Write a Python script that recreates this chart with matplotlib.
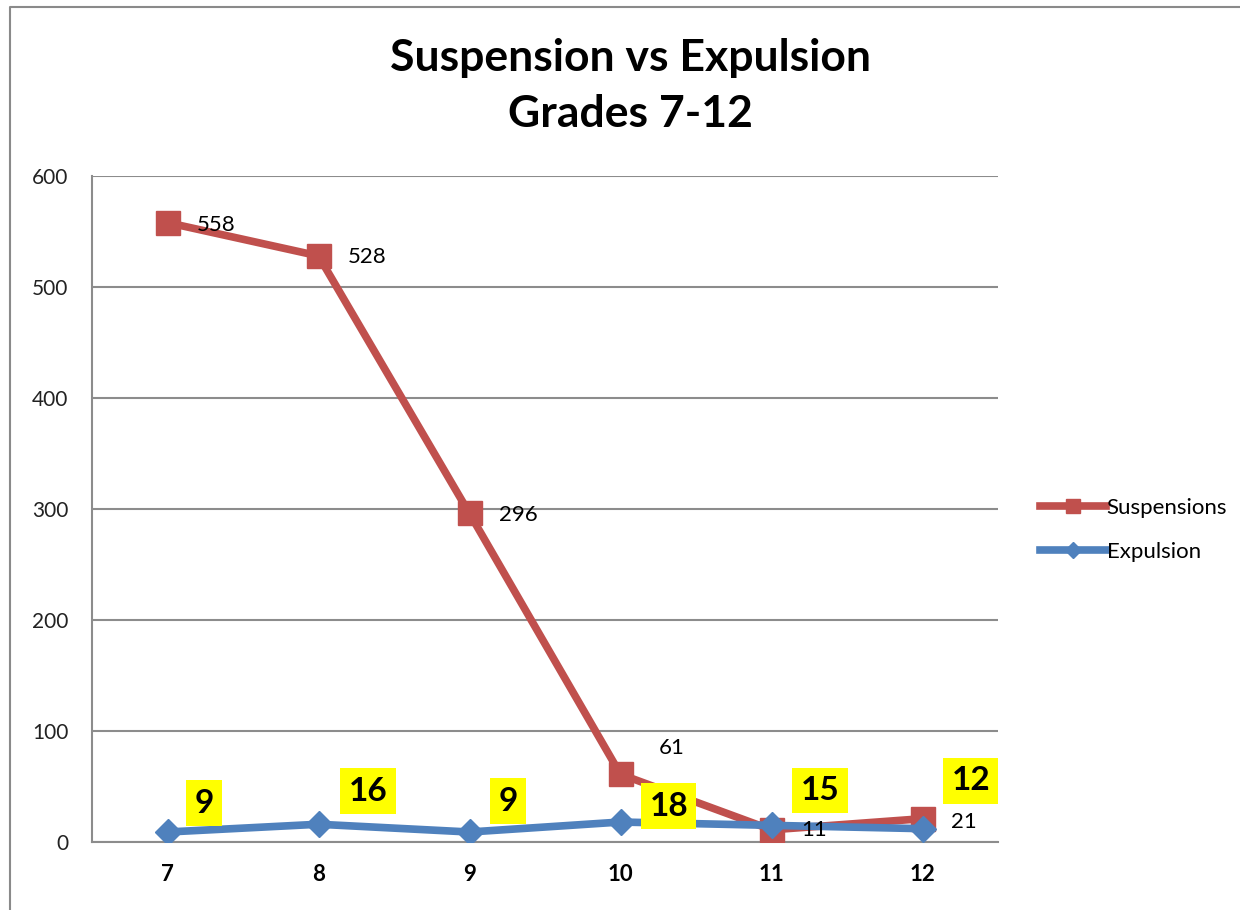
import numpy as np
import matplotlib
matplotlib.use('Agg')
import matplotlib.pyplot as plt
from matplotlib.lines import Line2D

# 数据
grades = ['7', '8', '9', '10', '11', '12']
suspensions = [558, 528, 296, 61, 11, 21]
expulsion = [9, 16, 9, 18, 15, 12]

# 标签偏移（像素）
susp_offsets = [(29, -2), (29, -1), (29, -2), (38, 26), (30, 0), (28, -3)]
exp_offsets = [(27, 29), (30, 33), (29, 31), (29, 16), (29, 35), (29, 48)]

RED = '#C0504D'
BLUE = '#4F81BD'
GRID = '#8c8c8c'

plt.rcParams['font.family'] = ['Lato', 'DejaVu Sans']

fig = plt.figure(figsize=(12.4, 9.1), dpi=100)
ax = fig.add_axes([92 / 1240, 68 / 910, 906 / 1240, 666 / 910])

x = np.arange(len(grades))
ax.plot(x, suspensions, color=RED, lw=5.5, marker='s', markersize=17,
        markerfacecolor=RED, markeredgecolor=RED, label='Suspensions', zorder=3)
ax.plot(x, expulsion, color=BLUE, lw=5.5, marker='D', markersize=13,
        markerfacecolor=BLUE, markeredgecolor=BLUE, label='Expulsion', zorder=4)

px = 0.72  # 像素 -> 磅
for xi, v, (dx, dy) in zip(x, suspensions, susp_offsets):
    ax.annotate(str(v), (xi, v), xytext=(dx * px, dy * px), textcoords='offset points',
                ha='left', va='center', fontsize=16, color='black', zorder=6)
for xi, v, (dx, dy) in zip(x, expulsion, exp_offsets):
    ax.annotate(str(v), (xi, v), xytext=(dx * px, dy * px), textcoords='offset points',
                ha='left', va='center', fontsize=24, fontweight='bold', color='black',
                bbox=dict(boxstyle='square,pad=0.25', facecolor='yellow', edgecolor='none'),
                zorder=7)

ax.set_xlim(-0.5, len(grades) - 0.5)
ax.set_ylim(0, 600)
ax.set_yticks(np.arange(0, 601, 100))
ax.set_xticks(x)
ax.set_xticklabels(grades, fontsize=16, fontweight='bold')
ax.tick_params(axis='y', length=0, pad=17, labelsize=15, labelcolor='#222222')
ax.tick_params(axis='x', length=0, pad=16)
ax.yaxis.grid(True, color=GRID, lw=1.5)
ax.set_axisbelow(True)
for s in ['top', 'right']:
    ax.spines[s].set_visible(False)
ax.spines['left'].set_color(GRID)
ax.spines['left'].set_linewidth(1.5)
ax.spines['bottom'].set_color(GRID)
ax.spines['bottom'].set_linewidth(1.5)

fig.text(630 / 1240, 1 - 58 / 910, 'Suspension vs Expulsion', ha='center', va='center',
         fontsize=32, fontweight='bold')
fig.text(630 / 1240, 1 - 114 / 910, 'Grades 7-12', ha='center', va='center',
         fontsize=32, fontweight='bold')

fig.legend(loc='center left', bbox_to_anchor=(1020 / 1240, 1 - 530 / 910), frameon=False,
           fontsize=16, handlelength=2.95, handletextpad=0.05, labelspacing=1.1,
           markerscale=0.6, numpoints=1)

# 外框
fig.add_artist(Line2D([10 / 1240, 10 / 1240, 1.0], [0.0, 1 - 7 / 910, 1 - 7 / 910],
                      transform=fig.transFigure, color='#8a8a8a', lw=1.5))

fig.savefig('out.png', dpi=100)
